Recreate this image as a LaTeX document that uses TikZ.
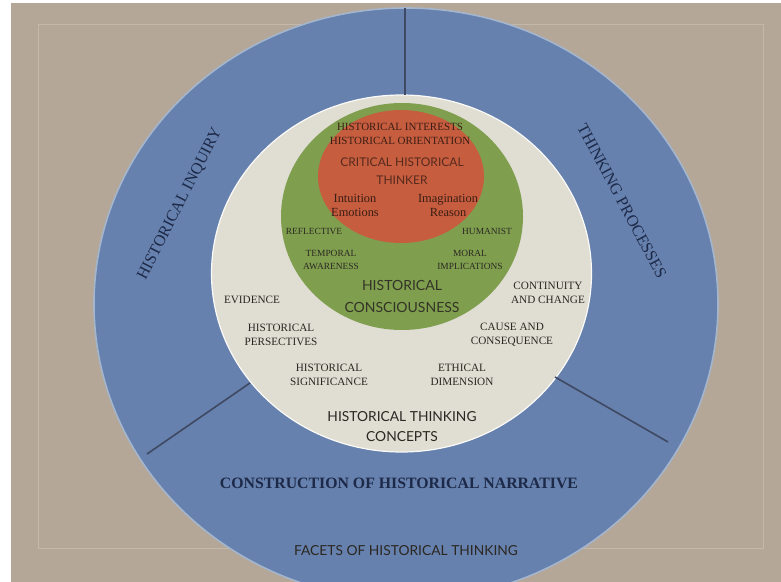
\documentclass[tikz,border=0pt]{standalone}
\usepackage{fontspec}
\setmainfont{Liberation Serif}
\newfontfamily\facetsans{Lato}
\usetikzlibrary{positioning}

\definecolor{canvas}{HTML}{B4A797}
\definecolor{frameline}{HTML}{C3B8AA}
\definecolor{ringblue}{HTML}{6681AD}
\definecolor{ringedge}{HTML}{A4B5CE}
\definecolor{paleband}{HTML}{E0DDD3}
\definecolor{leafgreen}{HTML}{7F9F4F}
\definecolor{brickred}{HTML}{C65D3F}
\definecolor{inkblue}{HTML}{1D2948}
\definecolor{inkdark}{HTML}{2B2722}
\definecolor{inkred}{HTML}{3A1D14}

\begin{document}
\begin{tikzpicture}[
    x=0.5pt, y=-0.5pt,
    every node/.style={align=center, inner sep=0pt},
    facet/.style={font=\fontsize{8.1}{9}\selectfont, text=inkblue},
    narrative/.style={font=\bfseries\fontsize{7.9}{9}\selectfont, text=inkblue},
    heading/.style={font=\facetsans\fontsize{6.9}{10}\selectfont, text=inkdark},
    concept/.style={font=\fontsize{5.6}{7}\selectfont, text=inkdark},
    trait/.style={font=\fontsize{4.7}{6.5}\selectfont, text=inkdark},
    core/.style={font=\fontsize{5.5}{7}\selectfont, text=inkred},
    divider/.style={draw=inkblue!85, line width=0.8pt}
]

% Background
\useasboundingbox (0,0) rectangle (781,582);
\clip (0,0) rectangle (781,582);
\fill[white] (0,0) rectangle (781,582);
\fill[canvas] (11,3) rectangle (781,582);
\draw[frameline, line width=0.4pt] (38,24) rectangle (763,548);

% Rings
\filldraw[fill=ringblue, draw=ringedge, line width=0.8pt] (406,304) ellipse [x radius=312, y radius=296];
\filldraw[fill=paleband, draw=white!85!paleband, line width=0.6pt] (401.5,273.5) ellipse [x radius=190, y radius=178.5];
\fill[leafgreen] (402,216.5) ellipse [x radius=121, y radius=113.5];
\fill[brickred] (401,176.5) ellipse [x radius=83, y radius=66.5];

% Dividers
\coordinate (topOut) at (405,8);
\coordinate (topIn) at (405,95);
\coordinate (leftOut) at (147,454);
\coordinate (leftIn) at (250,383);
\coordinate (rightOut) at (668,442);
\coordinate (rightIn) at (555,377);
\draw[divider] (topOut) -- (topIn);
\draw[divider] (leftOut) -- (leftIn);
\draw[divider] (rightOut) -- (rightIn);

% Outer ring
\node[facet, rotate=63] (inquiry) at (180,204) {HISTORICAL INQUIRY};
\node[facet, rotate=-62] (processes) at (622,201) {THINKING PROCESSES};
\node[narrative] (narr) at (399,483) {CONSTRUCTION OF HISTORICAL NARRATIVE};
\node[heading] (facets) at (406,551) {FACETS OF HISTORICAL THINKING};

% Concepts
\node[heading] (htc) at (402,427) {HISTORICAL THINKING\\CONCEPTS};
\node[concept] (evidence) at (252,300) {EVIDENCE};
\node[concept] (persp) at (281,335) {HISTORICAL\\PERSECTIVES};
\node[concept] (signif) at (329,375) {HISTORICAL\\SIGNIFICANCE};
\node[concept] (ethic) at (462,375) {ETHICAL\\DIMENSION};
\node[concept] (cause) at (512,335) {CAUSE AND\\CONSEQUENCE};
\node[concept] (contin) at (548,293) {CONTINUITY\\AND CHANGE};

% Consciousness
\node[heading, font=\facetsans\fontsize{7}{11}\selectfont, text=inkdark!90!leafgreen] (consc) at (402,296) {HISTORICAL\\CONSCIOUSNESS};
\node[trait] (reflect) at (314,231) {REFLECTIVE};
\node[trait] (human) at (487,231) {HUMANIST};
\node[trait] (temporal) at (331,260) {TEMPORAL\\AWARENESS};
\node[trait] (moral) at (470,260) {MORAL\\IMPLICATIONS};

% Thinker
\node[core] (interest) at (400,134) {HISTORICAL INTERESTS\\HISTORICAL ORIENTATION};
\node[heading, font=\facetsans\fontsize{6}{9}\selectfont, text=inkred!80!brickred] (thinker) at (402,171) {CRITICAL HISTORICAL\\THINKER};
\node[core, font=\fontsize{6.2}{7}\selectfont] (intuit) at (355,205) {Intuition\\Emotions};
\node[core, font=\fontsize{6.2}{7}\selectfont] (imagin) at (448,205) {Imagination\\Reason};

\end{tikzpicture}
\end{document}
